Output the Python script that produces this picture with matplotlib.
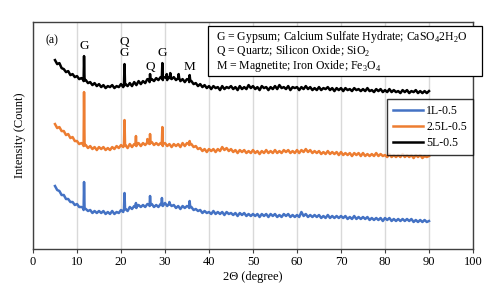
import matplotlib
matplotlib.use('Agg')
import matplotlib.pyplot as plt
import numpy as np
from matplotlib.patches import Rectangle

plt.rcParams['font.family'] = ['Liberation Serif', 'DejaVu Serif']
plt.rcParams['mathtext.fontset'] = 'custom'
plt.rcParams['mathtext.rm'] = 'Liberation Serif'

# 2-theta grid (degree), 0.5 degree steps from 5 to 90
two_theta = np.arange(5, 90.01, 0.5)

black_y = [189, 185, 186, 181, 180, 177, 178, 174, 175, 172,
           173, 170, 171, 168, 169, 166, 167, 164, 166, 163,
           165, 162, 164, 161, 163, 162, 164, 161, 163, 162,
           165, 162, 165, 163, 166, 163, 167, 164, 168, 165,
           168, 166, 170, 167, 170, 168, 171, 169, 172, 169,
           172, 169, 172, 170, 172, 169, 171, 168, 170, 167,
           170, 167, 168, 165, 166, 163, 165, 162, 164, 161,
           163, 160, 163, 161, 162, 159, 163, 160, 162, 161,
           163, 160, 162, 159, 163, 160, 162, 160, 164, 161,
           163, 160, 162, 159, 163, 161, 162, 159, 162, 160,
           163, 160, 164, 161, 162, 160, 163, 159, 162, 161,
           162, 159, 162, 160, 163, 160, 162, 159, 161, 159,
           162, 159, 161, 160, 162, 159, 161, 158, 161, 159,
           161, 158, 161, 159, 160, 158, 161, 159, 160, 158,
           160, 158, 161, 158, 159, 157, 160, 158, 160, 157,
           159, 157, 160, 157, 159, 157, 158, 156, 159, 157,
           159, 156, 158, 157, 159, 156, 158, 156, 158, 156,
           158]

orange_y = [125, 121, 122, 118, 118, 114, 115, 111, 112, 108,
            108, 105, 106, 103, 104, 101, 103, 100, 102, 99,
            102, 100, 102, 99, 101, 99, 102, 100, 103, 101,
            104, 102, 104, 101, 105, 102, 105, 103, 106, 103,
            106, 104, 108, 105, 107, 104, 106, 104, 106, 103,
            106, 103, 105, 102, 105, 103, 105, 102, 106, 103,
            106, 104, 105, 102, 103, 100, 101, 98, 100, 97,
            100, 98, 100, 97, 100, 98, 102, 99, 101, 98,
            100, 97, 99, 96, 99, 97, 99, 96, 98, 96,
            99, 96, 98, 95, 98, 96, 99, 96, 98, 96,
            99, 96, 98, 96, 99, 97, 99, 96, 98, 96,
            99, 96, 99, 97, 100, 97, 99, 96, 98, 96,
            98, 95, 97, 95, 98, 95, 97, 95, 97, 94,
            97, 94, 96, 94, 96, 93, 96, 94, 96, 93,
            96, 93, 95, 93, 95, 93, 96, 93, 95, 93,
            94, 92, 95, 92, 94, 92, 94, 92, 95, 92,
            94, 92, 94, 91, 94, 92, 94, 91, 93, 92,
            93]

blue_y = [63, 59, 58, 54, 54, 50, 50, 47, 47, 44,
          45, 42, 42, 39, 40, 38, 39, 36, 38, 36,
          38, 36, 38, 35, 37, 35, 38, 35, 37, 36,
          39, 37, 40, 38, 42, 40, 43, 41, 44, 42,
          44, 42, 45, 43, 45, 42, 44, 42, 45, 43,
          46, 43, 45, 43, 44, 41, 43, 40, 43, 41,
          43, 41, 42, 39, 40, 38, 39, 36, 38, 36,
          37, 35, 38, 35, 37, 35, 37, 34, 37, 35,
          36, 34, 36, 33, 36, 34, 36, 33, 35, 33,
          35, 33, 35, 32, 35, 33, 35, 32, 35, 33,
          35, 32, 34, 32, 35, 33, 35, 32, 34, 32,
          34, 32, 37, 33, 35, 32, 34, 32, 34, 32,
          34, 31, 33, 31, 34, 31, 33, 31, 33, 31,
          33, 31, 33, 30, 32, 30, 33, 30, 32, 30,
          32, 30, 32, 29, 31, 29, 31, 29, 31, 28,
          31, 29, 31, 28, 30, 28, 30, 28, 30, 28,
          30, 28, 30, 27, 29, 27, 29, 27, 29, 27,
          28]

# peaks: (position, top, foot)
black_peaks = [(11.6, 193, 169), (20.8, 185, 164), (26.6, 175, 169), (29.4, 186, 171),
               (30.4, 175, 171), (31.2, 176, 171), (33.1, 175, 171), (35.6, 174, 169)]
orange_peaks = [(11.6, 157, 104), (20.8, 129, 104), (23.4, 113, 104), (26.0, 110, 106),
                (26.6, 115, 106), (29.4, 122, 105), (35.6, 108, 105)]
blue_peaks = [(11.6, 67, 41), (20.8, 56, 40), (23.4, 46, 42), (26.6, 53, 44),
              (29.3, 51, 44), (31.0, 47, 45), (35.6, 48, 42)]

labels = ['1L-0.5', '2.5L-0.5', '5L-0.5']
colors = ['#4472C4', '#ED7D31', '#000000']

# phase labels above the 5L-0.5 pattern
phase_text = ['G', 'Q', 'G', 'Q', 'G', 'M']
phase_x = [11.6, 20.8, 20.8, 26.6, 29.4, 35.6]
phase_y = [203, 207, 196, 182, 196, 182]

legend_lines = [r'G = Gypsum; Calcium Sulfate Hydrate; CaSO$_\mathregular{4}$2H$_\mathregular{2}$O',
                r'Q = Quartz; Silicon Oxide; SiO$_\mathregular{2}$',
                r'M = Magnetite; Iron Oxide; Fe$_\mathregular{3}$O$_\mathregular{4}$']


def build(base, peaks):
    x = list(two_theta)
    y = list(base)
    for pos, top, foot in peaks:
        x += [pos - 0.12, pos, pos + 0.12]
        y += [foot, top, foot]
    order = np.argsort(x)
    return np.array(x)[order], np.array(y)[order]


fig = plt.figure(figsize=(5.0, 2.95), dpi=100)
ax = fig.add_axes([0.066, 0.156, 0.880, 0.769])

for base, peaks, lab, col in zip([blue_y, orange_y, black_y],
                                 [blue_peaks, orange_peaks, black_peaks],
                                 labels, colors):
    x, y = build(base, peaks)
    ax.plot(x, y, color=col, lw=1.8, label=lab)

ax.set_xlim(0, 100)
ax.set_ylim(0, 227)
ax.set_xticks(np.arange(0, 101, 10))
ax.set_yticks([])
ax.grid(axis='x', color='#d9d9d9', lw=1)
ax.set_axisbelow(True)
for sp in ax.spines.values():
    sp.set_color('#404040')
    sp.set_linewidth(1)
ax.tick_params(axis='x', direction='out', length=3, width=0.8, color='#404040',
               labelsize=9, pad=2)
ax.set_xlabel('2Θ (degree)', fontsize=9, labelpad=2)
ax.set_ylabel('Intensity (Count)', fontsize=9, labelpad=5)

ax.text(4.3, 209, '(a)', fontsize=8.5, ha='center', va='center')
for t, px, py in zip(phase_text, phase_x, phase_y):
    ax.text(px, py, t, fontsize=9.5, ha='center', va='center')

leg = ax.legend(loc='upper right', bbox_to_anchor=(1.0, 0.661), fontsize=8.5,
                frameon=True, fancybox=False, edgecolor='black', borderaxespad=0,
                handlelength=2.5, handletextpad=0.3, labelspacing=0.35, borderpad=0.5)
leg.get_frame().set_linewidth(1)

# phase identification box
fig.patches.append(Rectangle((208 / 500, 1 - 76 / 295), 274 / 500, 50 / 295,
                             transform=fig.transFigure, facecolor='white',
                             edgecolor='black', lw=0.9, zorder=5))
for i, s in enumerate(legend_lines):
    fig.text(216 / 500, 1 - (37 + 14.5 * i) / 295, s, fontsize=8.5,
             ha='left', va='center', zorder=6)

plt.savefig('out.png', dpi=100)
